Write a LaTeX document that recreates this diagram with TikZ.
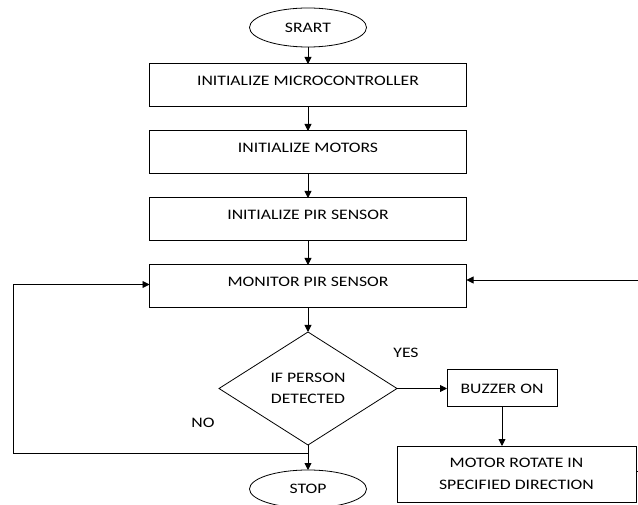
\documentclass[tikz,border=0pt]{standalone}
\usepackage{fontspec}
\setmainfont{Carlito}[FakeStretch=1.22]
\usetikzlibrary{positioning,arrows.meta,calc,shapes.geometric}

\begin{document}
\begin{tikzpicture}[
  x=1pt, y=-1pt,
  font=\fontsize{14.5}{21.5}\selectfont,
  box/.style={draw, line width=1pt, outer sep=0pt, minimum width=317pt, minimum height=43pt, text height=10pt, text depth=10pt, inner sep=0pt},
  term/.style={draw, ellipse, line width=0.8pt, outer sep=0pt, minimum width=117pt, minimum height=39pt, inner sep=0pt},
  dec/.style={draw, diamond, line width=0.8pt, outer sep=0pt, minimum width=178pt, minimum height=113pt, inner sep=0pt, align=center},
  act/.style={draw, line width=1pt, outer sep=0pt, inner sep=0pt, align=center},
  arr/.style={-{Triangle[length=7pt,width=7pt]}, line width=0.9pt},
  lbl/.style={inner sep=0pt}
]
\useasboundingbox (0,0) rectangle (638,505);

\node[term] (start) at (308,27.5) {SRART};
\node[box, below=17pt of start] (mcu) {INITIALIZE MICROCONTROLLER};
\node[box, below=24pt of mcu] (mot) {INITIALIZE MOTORS};
\node[box, below=24pt of mot] (pir) {INITIALIZE PIR SENSOR};
\node[box, below=24pt of pir] (mon) {MONITOR PIR SENSOR};
\node[dec, below=24pt of mon] (det) {IF PERSON\\DETECTED};
\node[term, minimum height=38pt, below=25pt of det] (stop) {STOP};
\node[act, minimum width=110pt, minimum height=37pt, right=50pt of det] (buz) {BUZZER ON};
\node[act, minimum width=239pt, minimum height=56pt, below=39pt of buz, xshift=14.5pt] (rot) {MOTOR ROTATE IN\\SPECIFIED DIRECTION};

\node[lbl] (yes) at ($(det.east)+(9,-36)$) {YES};
\node[lbl] (no) at ($(det.west)+(-16,34)$) {NO};

\draw[arr] (start) -- (mcu);
\draw[arr] (mcu) -- (mot);
\draw[arr] (mot) -- (pir);
\draw[arr] (pir) -- (mon);
\draw[arr] (mon) -- (det);
\draw[arr] (det) -- (stop);
\draw[arr] (det) -- (buz);
\draw[arr] (buz) -- (buz |- rot.north);

\coordinate (nojoin) at ($(det.south)+(0,8)$);
\draw[arr] (nojoin) -- ++(-295,0) |- ($(mon.west)+(0,-2)$);
\coordinate (retin) at (638,280);
\draw[arr] (retin) -- (retin -| mon.east);
\draw[line width=0.9pt] ($(rot.east)+(0,-3)$) -- ++(3,0);
\end{tikzpicture}
\end{document}
